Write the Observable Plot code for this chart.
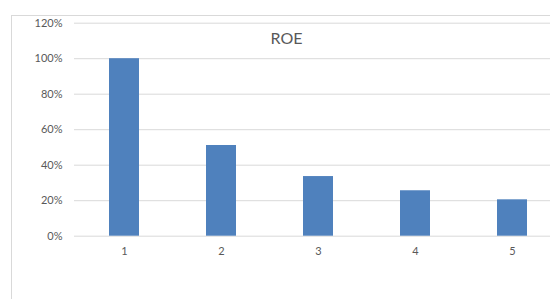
<!DOCTYPE html>
<html>
<head>
<meta charset="utf-8">
<script src="https://cdn.jsdelivr.net/npm/d3@7"></script>
<script src="https://cdn.jsdelivr.net/npm/@observablehq/plot@0.6"></script>
<style>
  html, body { margin: 0; padding: 0; background: #fff; overflow: hidden; }
  #wrap { position: relative; width: 550px; height: 299px; overflow: hidden; background: #fff; }
  #frame { position: absolute; left: 11px; top: 15px; width: 560px; height: 300px; border: 1px solid #d9d9d9; box-sizing: border-box; }
  #title { position: absolute; left: 0; width: 573px; top: 29px; text-align: center; font-family: Lato, "Open Sans", sans-serif; font-size: 16px; color: #595959; line-height: 18px; }
  #chart { position: absolute; left: 0; top: 0; }
</style>
</head>
<body>
<div id="wrap">
  <div id="frame"></div>
  <div id="chart"></div>
  <div id="title">ROE</div>
</div>
<script>
const categories = ["1", "2", "3", "4", "5"];
const values = [1.00, 0.511, 0.336, 0.256, 0.205];
const yTicks = [0, 0.2, 0.4, 0.6, 0.8, 1.0, 1.2];

const data = categories.map((c, i) => ({ cat: c, roe: values[i] }));
const pct = d => Math.round(d * 100) + "%";

const chart = Plot.plot({
  width: 550,
  height: 299,
  marginLeft: 74,
  marginRight: 0,
  marginTop: 22.7,
  marginBottom: 63.3,
  style: { fontFamily: "Lato, 'Open Sans', sans-serif", fontSize: "11px", color: "#595959", background: "transparent", overflow: "visible" },
  x: { domain: categories, range: [74.8, 561.2], paddingInner: 0.69, paddingOuter: 0.345, align: 0.5, label: null },
  y: { domain: [0, 1.2], label: null },
  marks: [
    Plot.ruleY(yTicks, { stroke: "#d9d9d9", strokeWidth: 1 }),
    Plot.barY(data, { x: "cat", y: "roe", fill: "#4f81bd", inset: 0 }),
    Plot.axisY({ ticks: yTicks, tickFormat: pct, tickSize: 0, tickPadding: 12, fill: "#595959", label: null }),
    Plot.axisX({ tickSize: 0, tickPadding: 11, fill: "#595959", label: null })
  ]
});
document.getElementById("chart").appendChild(chart);
</script>
</body>
</html>
